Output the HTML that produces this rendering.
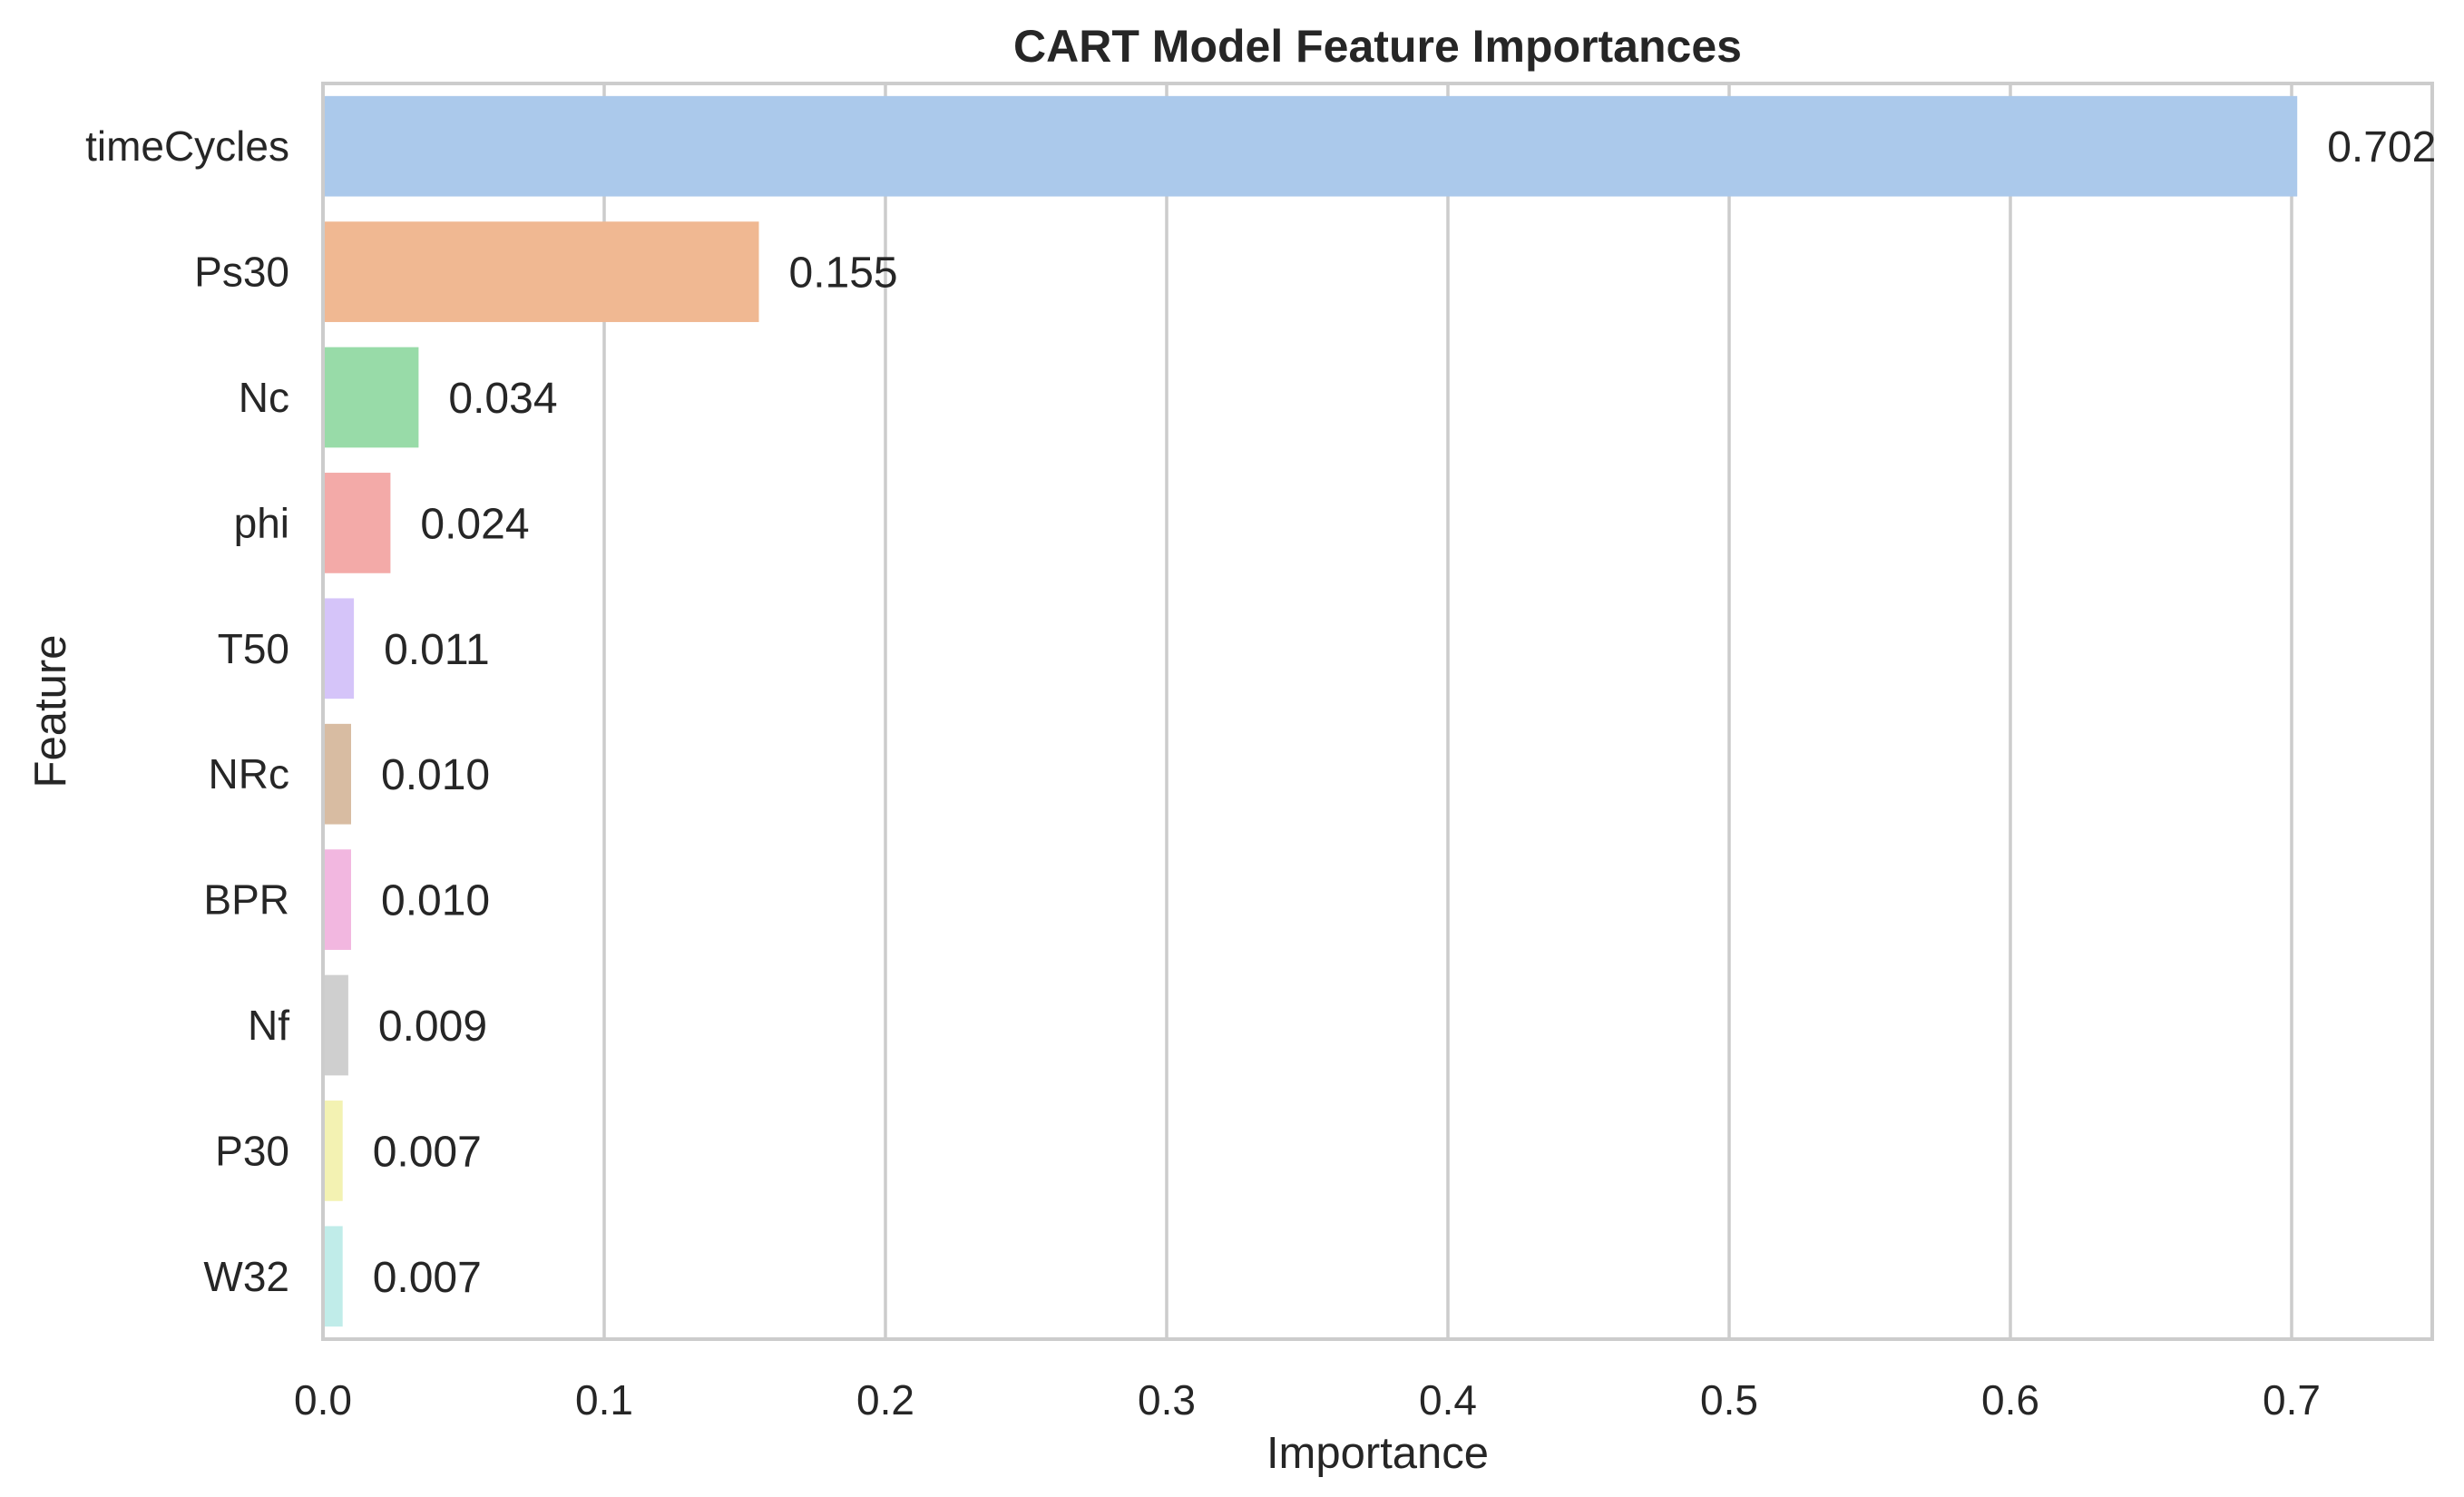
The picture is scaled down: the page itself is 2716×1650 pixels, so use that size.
<!DOCTYPE html>
<html><head><meta charset="utf-8"><style>
body{margin:0;background:#fff}
svg{display:block;font-family:"Liberation Sans",sans-serif}
</style></head><body>
<svg id="chart" width="2716" height="1650" viewBox="0 0 2716 1650">
<g id="grid"></g><g id="bars"></g><g id="frame"></g><g id="labels"></g>
</svg>
<script>
const features = ["timeCycles","Ps30","Nc","phi","T50","NRc","BPR","Nf","P30","W32"];
const importances = [0.702,0.155,0.034,0.024,0.011,0.010,0.010,0.009,0.007,0.007];
const valueLabels = ["0.702","0.155","0.034","0.024","0.011","0.010","0.010","0.009","0.007","0.007"];
const xTicks = [0,0.1,0.2,0.3,0.4,0.5,0.6,0.7];
const xTickLabels = ["0.0","0.1","0.2","0.3","0.4","0.5","0.6","0.7"];
const barColors = ["#abc9eb","#f0b892","#98dba8","#f3aaa8","#d5c4f9","#d8bca2","#f2b7e0","#cfcfcf","#f3f2b2","#c0ece9"];

const L=356,R=2681,T=92,B=1476,XMAX=0.75;
const NS="http://www.w3.org/2000/svg";
const x=v=>L+v/XMAX*(R-L);
const step=(B-T)/features.length;
const yc=i=>T+step*(i+0.5);
function mk(tag,attrs,parent,text){const e=document.createElementNS(NS,tag);for(const k in attrs)e.setAttribute(k,attrs[k]);if(text!==undefined)e.textContent=text;document.getElementById(parent).appendChild(e);return e;}

xTicks.forEach((t,i)=>{
  const g=mk('line',{x1:x(t),x2:x(t),y1:T,y2:B,stroke:'#cccccc','stroke-width':3.5},'grid');
  
  
  const tl=mk('text',{x:x(t),y:1559,'font-size':46,fill:'#262626','text-anchor':'middle'},'labels',xTickLabels[i]);
  
  
});
features.forEach((f,i)=>{
  const h=step*0.8;
  const b=mk('rect',{x:L,y:yc(i)-h/2,width:x(importances[i])-L,height:h,fill:barColors[i]},'bars');
  
  
  const yl=mk('text',{x:319,y:yc(i)+16,'font-size':46,fill:'#262626','text-anchor':'end'},'labels',f);
  
  
  const vl=mk('text',{x:x(importances[i])+33,y:yc(i)+17,'font-size':48,fill:'#262626'},'labels',valueLabels[i]);
  
  
});
const fr=mk('rect',{x:L,y:T,width:R-L,height:B-T,fill:'none',stroke:'#cccccc','stroke-width':4},'frame');


const ti=mk('text',{x:(L+R)/2,y:68,'font-size':50,'font-weight':'bold',fill:'#262626','text-anchor':'middle'},'labels','CART Model Feature Importances');


const xl=mk('text',{x:(L+R)/2,y:1618,'font-size':49,fill:'#262626','text-anchor':'middle'},'labels','Importance');


const yla=mk('text',{x:0,y:0,'font-size':49,fill:'#262626','text-anchor':'middle',transform:'translate(72,784) rotate(-90)'},'labels','Feature');


</script>
</body></html>
